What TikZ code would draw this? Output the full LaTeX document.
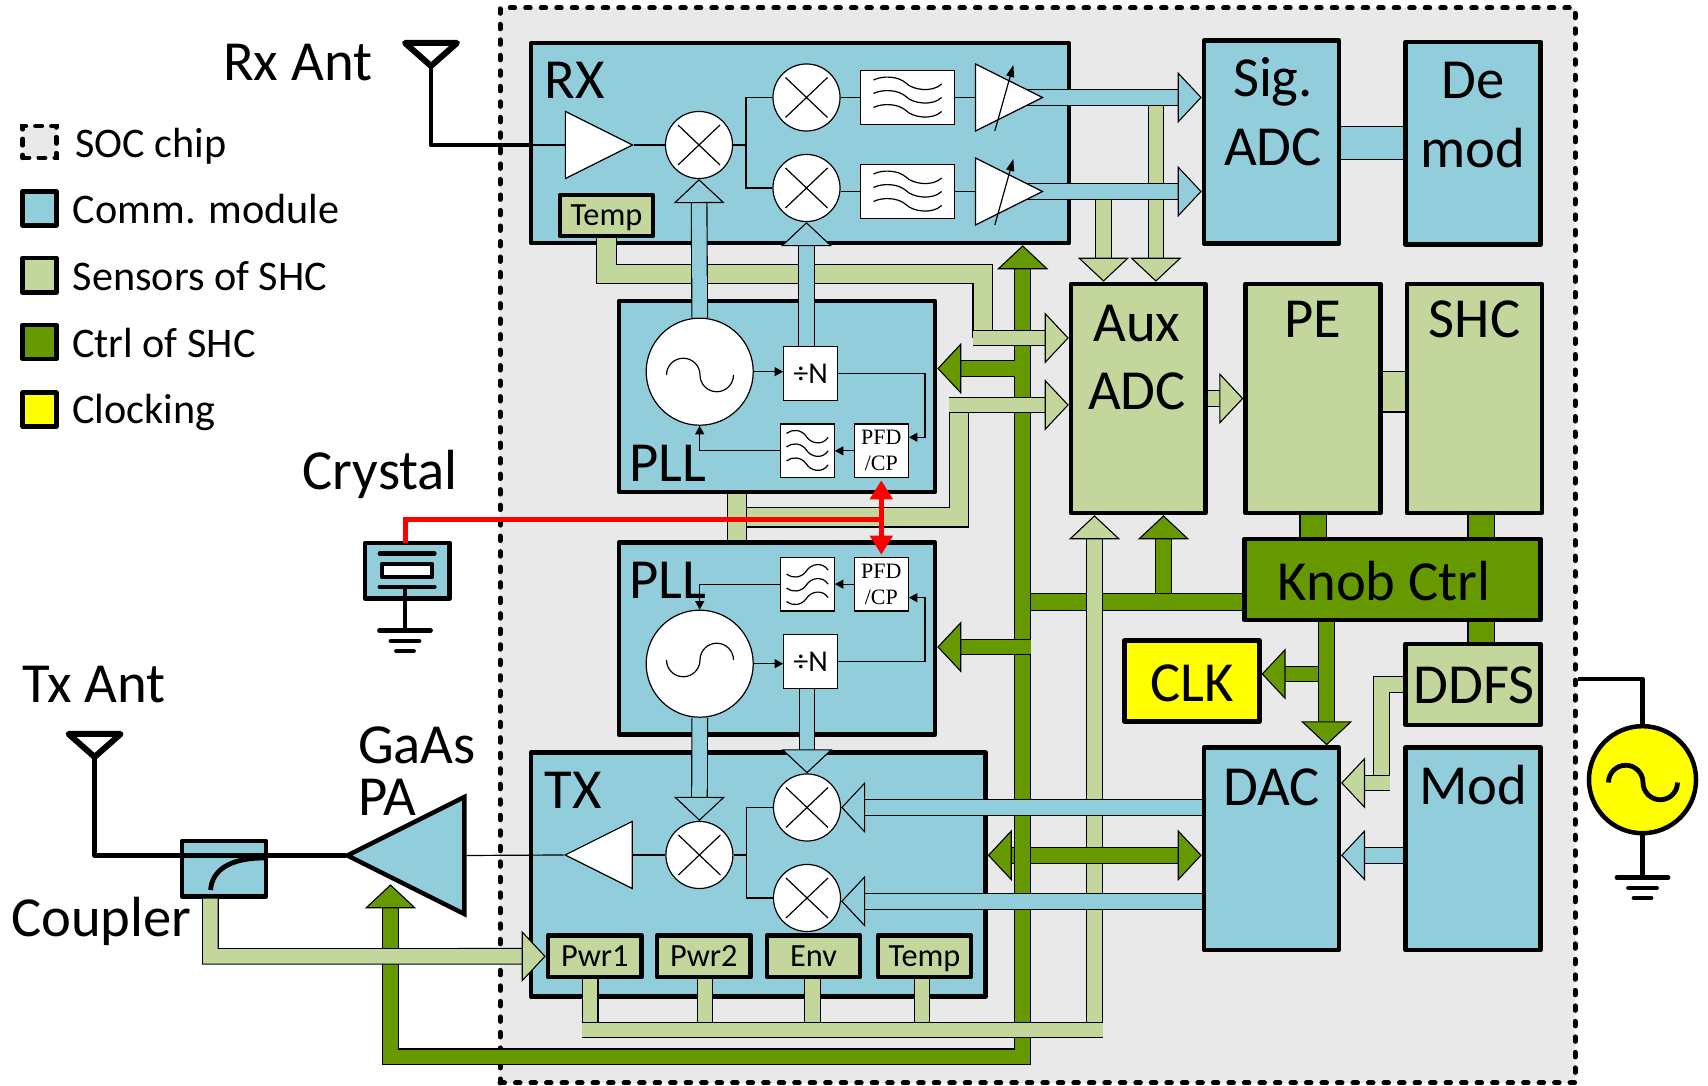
\documentclass[tikz,border=0pt]{standalone}
\usepackage{fontspec}
\setmainfont{Carlito}
\newfontfamily\pfdfont{Liberation Serif}
\usetikzlibrary{arrows.meta, shapes.geometric}

\definecolor{commblue}{HTML}{92CDDC}
\definecolor{sensgreen}{HTML}{C3D69B}
\definecolor{ctrlgreen}{HTML}{669900}
\definecolor{chipgray}{HTML}{E9E9E9}
\definecolor{clockyellow}{HTML}{FFFF00}

\newcommand{\boxat}[7]{\node[#1, minimum width={(#5-#3)*0.01cm}, minimum height={(#6-#4)*0.01cm}] (#2) at ({(#3+#5)/2},{(#4+#6)/2}) {#7};}

\tikzset{
    biglabel/.style={font=\fontsize{16.1pt}{19.5pt}\selectfont, inner sep=0pt},
    legendlabel/.style={font=\fontsize{12pt}{14pt}\selectfont, inner sep=0pt, anchor=base west},
    sensorlabel/.style={font=\fontsize{9.2pt}{11pt}\selectfont, text height=0.2cm, text depth=0pt},
    block/.style={draw, line width=0.045cm, line join=round, inner sep=0pt},
    commblock/.style={block, fill=commblue},
    sensblock/.style={block, fill=sensgreen},
    ctrlblock/.style={block, fill=ctrlgreen},
    clkblock/.style={block, fill=clockyellow},
    chipblock/.style={draw, fill=chipgray, line width=0.05cm, line cap=round, dash pattern=on 0.045cm off 0.11cm, inner sep=0pt},
    legendchip/.style={draw, fill=chipgray, line width=0.045cm, line cap=round, dash pattern=on 0.065cm off 0.095cm, inner sep=0pt},
    whitebox/.style={draw, fill=white, line width=0.012cm, inner sep=0pt},
    divbox/.style={whitebox, font=\fontsize{8.6pt}{10pt}\selectfont},
    pfdbox/.style={whitebox, align=center, font=\pfdfont\fontsize{6.25pt}{7.4pt}\selectfont},
    mixer/.style={circle, draw, fill=white, line width=0.012cm, minimum size=0.67cm, inner sep=0pt, path picture={
        \draw[line width=0.012cm] (path picture bounding box.center) +(-21,-20) -- +(21,20) +(-21,20) -- +(21,-20);}},
    vco/.style={circle, draw, fill=white, line width=0.012cm, minimum size=1.07cm, inner sep=0pt},
    amp/.style={isosceles triangle, isosceles triangle stretches, draw, fill=white, line width=0.012cm, minimum size=0.67cm, inner sep=0pt, anchor=apex},
    thinwire/.style={line width=0.012cm},
    thickwire/.style={line width=0.048cm, line join=round},
    thinarrow/.style={line width=0.012cm, -{Triangle[length=0.085cm, width=0.09cm]}},
    redwire/.style={draw=red, line width=0.05cm},
    bluebar/.style={draw=black, line width=0.011cm, double=commblue, double distance=#1},
    bluebar/.default=0.145cm,
    sensbar/.style={draw=black, line width=0.011cm, double=sensgreen, double distance=#1},
    sensbar/.default=0.145cm,
    ctrlbar/.style={draw=black, line width=0.011cm, double=ctrlgreen, double distance=#1},
    ctrlbar/.default=0.145cm,
    blueend/.tip={Triangle[length=0.24cm, width=0.51cm, line width=0.011cm, fill=commblue]},
    sensend/.tip={Triangle[length=0.24cm, width=0.51cm, line width=0.011cm, fill=sensgreen]},
    ctrlend/.tip={Triangle[length=0.24cm, width=0.51cm, line width=0.011cm, fill=ctrlgreen]},
    redend/.tip={Triangle[length=0.19cm, width=0.22cm]},
    pics/sinewave/.style={code={
        \draw[pic actions] (-33.5,0) .. controls (-33.5,-9.25) and (-26,-16.75) .. (-16.75,-16.75)
            .. controls (-7.5,-16.75) and (0,-9.25) .. (0,0)
            .. controls (0,9.25) and (7.5,16.75) .. (16.75,16.75)
            .. controls (26,16.75) and (33.5,9.25) .. (33.5,0);}},
    pics/filterwave/.style={code={
        \draw[pic actions] (-20.8,-17.5) .. controls (-15,-22) and (-6,-21.5) .. (-1,-14.5) .. controls (3,-7.5) and (15,-4.5) .. (20.8,-13.5);
        \draw[pic actions] (-20.8,-4) .. controls (-15,-8.5) and (-6,-8) .. (-1,-1) .. controls (3,6) and (15,9) .. (20.8,0);
        \draw[pic actions] (-20.8,10) .. controls (-15,5.5) and (-6,6) .. (-1,13) .. controls (3,20) and (15,23) .. (20.8,14);}},
    pics/antenna/.style={code={
        \draw[line width=0.06cm, line join=round] (-26,-23) -- (26,-23) -- (0,0) -- cycle;}},
    pics/groundsym/.style={code={
        \draw[thickwire, line cap=round] (-25.5,0) -- (25.5,0);
        \draw[thickwire, line cap=round] (-14,10.5) -- (14,10.5);
        \draw[thickwire, line cap=round] (-8.5,20.5) -- (8.5,20.5);}},
}

\begin{document}
\begin{tikzpicture}[x=0.01cm, y=-0.01cm]
    \useasboundingbox (0,0) rectangle (1708,1086);

    \boxat{chipblock}{chip}{500}{8}{1575}{1083}{}

    \coordinate (rxanttip) at (431,66);
    \coordinate (txanttip) at (94.6,757);
    \coordinate (extwire) at (1643,679);

    \boxat{legendchip}{legchip}{22.7}{126}{56.3}{158}{}
    \boxat{commblock}{legcomm}{22.7}{191.4}{56.3}{225.3}{}
    \boxat{sensblock}{legsens}{22.7}{258}{56.3}{292.6}{}
    \boxat{ctrlblock}{legctrl}{22.7}{325}{56.3}{359}{}
    \boxat{clkblock}{legclk}{22.7}{392.6}{56.3}{426.5}{}
    \node[legendlabel] (legchiptext) at (74.5,158) {SOC chip};
    \node[legendlabel] (legcommtext) at (72.2,223.3) {Comm. module};
    \node[legendlabel] (legsenstext) at (72.2,290.2) {Sensors of SHC};
    \node[legendlabel] (legctrltext) at (71.5,357.1) {Ctrl of SHC};
    \node[legendlabel] (legclktext) at (71.5,424) {Clocking};

    \node[biglabel, anchor=base west] (rxanttext) at (222.5,80.2) {Rx Ant};
    \node[biglabel, anchor=base west] (crystaltext) at (302,489.7) {Crystal};
    \node[biglabel, anchor=base west] (txanttext) at (21.5,702.2) {Tx Ant};
    \node[biglabel, anchor=base west] (couplertext) at (10.5,936.5) {Coupler};
    \node[biglabel, align=left, font=\fontsize{16.1pt}{14.7pt}\selectfont] (patext) at (417,771) {GaAs\\PA};

    \boxat{commblock}{rx}{531}{43}{1069}{243}{}
    \boxat{commblock}{pll1}{619}{301}{935}{492}{}
    \boxat{commblock}{pll2}{619}{542.7}{935}{734.7}{}
    \boxat{commblock}{tx}{531}{752.7}{985.5}{996.7}{}
    \boxat{commblock}{sigadc}{1204}{40.6}{1339}{243.7}{}
    \boxat{commblock}{demod}{1405.4}{42}{1540.7}{244.4}{}
    \boxat{sensblock}{aux}{1071}{284}{1205.4}{513}{}
    \boxat{sensblock}{pe}{1245.6}{284}{1380.5}{513}{}
    \boxat{sensblock}{shc}{1407}{284}{1542}{513}{}
    \boxat{ctrlblock}{knob}{1244.3}{539}{1540.5}{620}{}
    \boxat{clkblock}{clk}{1124.5}{640.5}{1259.3}{721.6}{}
    \boxat{sensblock}{ddfs}{1405.6}{644}{1540.5}{724.8}{}
    \boxat{commblock}{dac}{1204}{747.6}{1338.8}{950}{}
    \boxat{commblock}{mod}{1405.6}{747.6}{1540.5}{950}{}

    \boxat{sensblock, sensorlabel}{rxtemp}{560}{195}{653}{236}{Temp}
    \boxat{sensblock, sensorlabel}{pwr1}{548}{935.7}{641.7}{977}{Pwr1}
    \boxat{sensblock, sensorlabel}{pwr2}{657}{935.7}{750.7}{977}{Pwr2}
    \boxat{sensblock, sensorlabel}{env}{767}{935.7}{860}{977}{Env}
    \boxat{sensblock, sensorlabel}{txtemp}{878}{935.7}{971}{977}{Temp}

    \node[biglabel, anchor=base west] (rxtext) at (544,98.5) {RX};
    \node[biglabel, anchor=base west] (pll1text) at (628.5,481.5) {PLL};
    \node[biglabel, anchor=base west] (pll2text) at (628.5,598.2) {PLL};
    \node[biglabel, anchor=base west] (txtext) at (544,808.5) {TX};
    \node[biglabel, align=center] (sigtext) at (1273,112) {Sig.\\ADC};
    \node[biglabel, align=center] (demodtext) at (1473,115.2) {De\\mod};
    \node[biglabel, align=center] (auxtext) at (1137,357.5) {Aux\\ADC};
    \node[biglabel, anchor=base] (petext) at (1312.6,337.9) {PE};
    \node[biglabel, anchor=base] (shctext) at (1474.5,337.9) {SHC};
    \node[biglabel, anchor=base] (knobtext) at (1384,600.5) {Knob Ctrl};
    \node[biglabel, anchor=base] (clktext) at (1192,701.5) {CLK};
    \node[biglabel, anchor=base] (ddfstext) at (1474,703.5) {DDFS};
    \node[biglabel, anchor=base] (dactext) at (1271.4,805.3) {DAC};
    \node[biglabel, anchor=base] (modtext) at (1473,804.5) {Mod};

    \node[mixer] (mixr) at (699,145) {};
    \node[mixer] (mixrt) at (806.5,97.5) {};
    \node[mixer] (mixrb) at (806.5,188) {};
    \boxat{whitebox}{filtt}{860.5}{70.7}{954.6}{124.3}{}
    \boxat{whitebox}{filtb}{860.5}{164.7}{954.6}{218.3}{}
    \pic[thinwire, xscale=1.64] at (filtt) {filterwave};
    \pic[thinwire, xscale=1.64] at (filtb) {filterwave};
    \node[amp] (lna) at (634,145) {};

    \draw[thinwire] (rx.west |- lna.lower side) -- (lna.lower side);
    \draw[thinwire] (lna.apex) -- (mixr.west);
    \coordinate (rxbranch) at (746,145);
    \draw[thinwire] (mixr.east) -- (rxbranch);
    \draw[thinwire] (mixrt.west) -| (rxbranch) |- (mixrb.west);
    \draw[thinwire] (mixrt.east) -- (filtt.west);
    \draw[thinwire] (mixrb.east |- filtb.west) -- (filtb.west);

    \node[vco] (vco1) at (699.7,371.7) {};
    \node[vco] (vco2) at (699.7,663.7) {};
    \pic[thinwire] at (700,375) {sinewave};
    \pic[thinwire, yscale=-1] at (700,660) {sinewave};
    \boxat{divbox}{divn1}{783.7}{346.7}{837.7}{400.3}{÷N}
    \boxat{divbox}{divn2}{783.7}{634.7}{837.7}{688.3}{÷N}
    \boxat{pfdbox}{pfd1}{854.3}{424}{908.3}{477.7}{PFD\\/CP}
    \boxat{pfdbox}{pfd2}{854.3}{557.3}{908.3}{611}{PFD\\/CP}
    \boxat{whitebox}{filt1}{780.3}{424}{834.3}{477.7}{}
    \boxat{whitebox}{filt2}{780.3}{557.3}{834.3}{611}{}
    \pic[thinwire] at (filt1) {filterwave};
    \pic[thinwire, yscale=-1] at (filt2) {filterwave};
    \coordinate (pll1turn) at (925,437.3);
    \coordinate (pll2turn) at (925,597.7);
    \draw[thinarrow] (vco1.east) -- (divn1.west |- vco1.east);
    \draw[thinarrow] (divn1.east) -| (pll1turn) -- (pfd1.east |- pll1turn);
    \draw[thinarrow] (pfd1.west) -- (filt1.east);
    \draw[thinarrow] (filt1.west) -| (vco1.south);
    \draw[thinarrow] (vco2.east) -- (divn2.west |- vco2.east);
    \draw[thinarrow] (divn2.east) -| (pll2turn) -- (pfd2.east |- pll2turn);
    \draw[thinarrow] (pfd2.west) -- (filt2.east);
    \draw[thinarrow] (filt2.west) -| (vco2.north);

    \node[mixer] (mixt) at (699.4,855) {};
    \node[mixer] (mixtt) at (807,807.5) {};
    \node[mixer] (mixtb) at (807,898) {};
    \node[amp, shape border rotate=180] (txamp) at (563.6,855) {};
    \coordinate (txbranch) at (746.4,855);
    \draw[thinwire] (mixt.west) -- (txamp.lower side);
    \draw[thinwire] (mixt.east) -- (txbranch);
    \draw[thinwire] (mixtt.west) -| (txbranch) |- (mixtb.west);

    \node[amp, commblock, minimum size=1.17cm, shape border rotate=180, line join=miter] (pa) at (341.5,855.5) {};
    \boxat{commblock}{coupler}{182}{841}{266}{896.4}{}
    \draw[thinwire] (pa.lower side) -- (txamp.apex);
    \draw[thickwire] (210.6,890) .. controls (212,870) and (230,858) .. (264,858);
    \pic at (rxanttip) {antenna};
    \pic at (txanttip) {antenna};
    \draw[thickwire] (rxanttip) |- (rx.west |- lna.lower side);
    \draw[thickwire] (txanttip) |- ([xshift=0.04cm]pa.apex);

    \boxat{commblock}{crystal}{365}{543}{449.7}{598.5}{}
    \boxat{block, fill=white}{crystalcore}{382}{564}{432}{577}{}
    \coordinate (crystalgnd) at (405,630.5);
    \coordinate (crystalpin) at (405,587);
    \coordinate (crystaltop) at (405,543);
    \draw[thickwire, line cap=round] (380,553.5) -- (434.3,553.5);
    \draw[thickwire, line cap=round] (380,587) -- (434.3,587);
    \draw[thickwire] (crystalpin) -- (crystalgnd);
    \pic at (crystalgnd) {groundsym};

    \node[clkblock, circle, minimum size=1.07cm] (source) at (1642.5,779.7) {};
    \coordinate (sourcegnd) at (1642.5,877.5);
    \draw[thickwire] (chip.east |- extwire) -| (source.north);
    \draw[thickwire] (source.south) -- (sourcegnd);
    \pic[thickwire, scale=1.03] at (1643,782.5) {sinewave};
    \pic at (sourcegnd) {groundsym};

    \coordinate (ctrlbus) at (1022.7,610);
    \coordinate (ctrlbottom) at (1022.7,1056.8);
    \coordinate (pabottom) at (390.5,1056.8);
    \coordinate (patip) at (390.5,884.3);
    \coordinate (pllctrl1) at (1014.7,368.5);
    \coordinate (pllctrl2) at (1030.7,647);
    \coordinate (knobleft) at (1030.7,602);
    \coordinate (auxctrl) at (1163.5,602);
    \coordinate (clkctrl) at (1318.7,674);
    \coordinate (dacctrl) at (1326.6,600);
    \coordinate (txdac) at (1100,855.3);
    \coordinate (shcstub) at (1481,530);

    \draw[ctrlbar, -ctrlend] (ctrlbus) -- (rx.south -| ctrlbus);
    \draw[ctrlbar, -ctrlend] (pllctrl1) -- (pll1.east |- pllctrl1);
    \draw[ctrlbar, -ctrlend] (auxctrl) -- (aux.south -| auxctrl);
    \draw[ctrlbar=0.155cm] (knob.west |- knobleft) -- (knobleft);
    \draw[ctrlbar, -ctrlend] (clkctrl) -- (clk.east |- clkctrl);
    \draw[ctrlbar, -ctrlend] (knob.south -| dacctrl) -- (dac.north -| dacctrl);
    \draw[ctrlbar=0.25cm] (pe.south) -- (knob.north -| pe.south);
    \draw[ctrlbar=0.25cm] (shc.south -| shcstub) -- (knob.north -| shcstub);
    \draw[ctrlbar=0.25cm] (knob.south -| shcstub) -- (ddfs.north -| shcstub);

    \coordinate (tempelbow) at (982.5,274);
    \coordinate (tempdrop) at (982.5,338);
    \coordinate (auxa) at (972.6,338);
    \coordinate (pllstub) at (736.7,517.5);
    \coordinate (pllbus) at (746.7,517.5);
    \coordinate (pllelbow) at (958.7,517.5);
    \coordinate (plldrop) at (958.7,405);
    \coordinate (auxb) at (948.7,405);
    \coordinate (tapa) at (1103.5,199.6);
    \coordinate (tapb) at (1155.9,105.7);
    \coordinate (peshc) at (1390,392);
    \coordinate (ddfsout) at (1381.7,684.7);
    \coordinate (ddfsdrop) at (1381.7,783);
    \coordinate (dacb) at (1390,783);
    \coordinate (auxbus) at (1094.5,1038.3);
    \coordinate (busleft) at (581.7,1030);
    \coordinate (busright) at (1102.6,1030);
    \coordinate (stubone) at (590.2,1030);
    \coordinate (stubtwo) at (704.9,1030);
    \coordinate (stubenv) at (812.5,1030);
    \coordinate (stubtemp) at (921.9,1030);
    \coordinate (coupout) at (210.4,956.4);

    \draw[sensbar=0.18cm] (rxtemp.south) |- (tempelbow) -- (tempdrop);
    \draw[sensbar, -sensend] (auxa) -- (aux.west |- auxa);
    \draw[sensbar=0.18cm] (pll1.south -| pllstub) -- (pll2.north -| pllstub);
    \draw[sensbar=0.18cm] (pllbus) -- (pllelbow) -- (plldrop);
    \draw[sensbar, -sensend] (auxb) -- (aux.west |- auxb);
    \draw[sensbar, -sensend] (tapa) -- (aux.north -| tapa);
    \draw[sensbar, -sensend] (tapb) -- (aux.north -| tapb);
    \draw[sensbar, -sensend] (aux.east) -- (pe.west);
    \draw[sensbar=0.39cm] (pe.east |- peshc) -- (shc.west |- peshc);
    \draw[sensbar] (ddfs.west |- ddfsout) -- (ddfsout) -- (ddfsdrop);
    \draw[sensbar, -sensend] (dacb) -- (dac.east |- dacb);
    \draw[sensbar, -sensend] (auxbus) -- (aux.south -| auxbus);

    \draw[ctrlbar, ctrlend-ctrlend] (tx.east |- txdac) -- (dac.west |- txdac);
    \draw[ctrlbar, -ctrlend] (ctrlbus) -- (ctrlbottom) -- (pabottom) -- (patip);
    \draw[ctrlbar, -ctrlend] (pllctrl2) -- (pll2.east |- pllctrl2);

    \draw[sensbar] (pwr1.south -| stubone) -- (stubone);
    \draw[sensbar] (pwr2.south -| stubtwo) -- (stubtwo);
    \draw[sensbar] (env.south -| stubenv) -- (stubenv);
    \draw[sensbar] (txtemp.south -| stubtemp) -- (stubtemp);
    \draw[sensbar] (busleft) -- (busright);
    \draw[sensbar, -sensend] (coupler.south -| coupout) -- (coupout) -- (pwr1.west);

    \coordinate (vgatout) at (1026,97.5);
    \coordinate (vgabout) at (1026,191.5);
    \coordinate (txqin) at (1100,901.3);
    \coordinate (modlink) at (1370,143);
    \draw[bluebar, -blueend] (vco1.north) -- (mixr.south);
    \draw[bluebar, -blueend] (divn1.north -| mixrb.south) -- (mixrb.south);
    \draw[bluebar, -blueend] (vco2.south) -- (mixt.north);
    \draw[bluebar, -blueend] (divn2.south -| mixtt.north) -- (mixtt.north);
    \draw[bluebar, -blueend] (dac.west |- mixtt.east) -- (mixtt.east);
    \draw[bluebar, -blueend] (dac.west |- txqin) -- (mixtb.east |- txqin);
    \draw[bluebar, -blueend] (mod.west |- txdac) -- (dac.east |- txdac);
    \draw[bluebar, -blueend] (vgatout) -- (sigadc.west |- vgatout);
    \draw[bluebar, -blueend] (vgabout) -- (sigadc.west |- vgabout);
    \draw[bluebar=0.32cm] (sigadc.east |- modlink) -- (demod.west |- modlink);

    \node[amp] (vgat) at (1044,97.5) {};
    \node[amp] (vgab) at (1044,191.5) {};
    \draw[thinwire] (filtt.east) -- (vgat.lower side);
    \draw[thinwire] (filtb.east) -- (vgab.lower side);
    \draw[thinarrow, -{Triangle[length=0.12cm, width=0.08cm]}] ([shift={(20,33.5)}]vgat.lower side) -- ([shift={(38.6,-32.5)}]vgat.lower side);
    \draw[thinarrow, -{Triangle[length=0.12cm, width=0.08cm]}] ([shift={(20,33.5)}]vgab.lower side) -- ([shift={(38.6,-32.5)}]vgab.lower side);

    \coordinate (redjoin) at (881.3,519.5);
    \draw[redwire] (crystaltop) |- (redjoin);
    \draw[redwire, redend-redend, shorten <=0.02cm, shorten >=0.02cm] (pfd1.south) -- (pfd2.north);
\end{tikzpicture}
\end{document}
